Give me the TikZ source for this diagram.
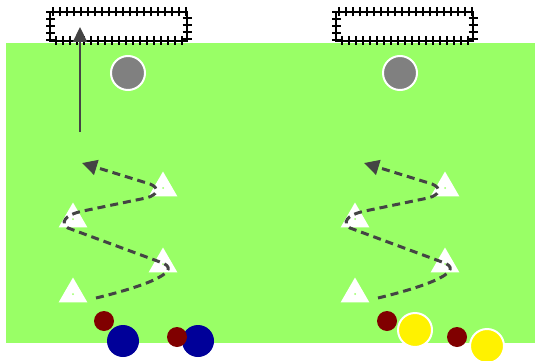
\documentclass[tikz,border=0pt]{standalone}
\usepackage{tikz}
\usetikzlibrary{shapes, arrows.meta, positioning, calc, decorations.pathreplacing}
\definecolor{pitch}{RGB}{153,255,102}
\definecolor{darkred}{RGB}{128,0,0}
\definecolor{navy}{RGB}{0,0,153}
\definecolor{runline}{RGB}{68,68,68}

\begin{document}
\begin{tikzpicture}[x=1pt, y=-1pt,
  cone/.style={regular polygon, regular polygon sides=3, fill=white, inner sep=0pt, minimum size=33pt},
  ball/.style={circle, fill=gray, draw=white, line width=2pt, inner sep=0pt, minimum size=34pt},
  redp/.style={circle, fill=darkred, inner sep=0pt, minimum size=20pt},
  bluep/.style={circle, fill=navy, inner sep=0pt, minimum size=32pt},
  yellowp/.style={circle, fill=yellow, draw=white, line width=2pt, inner sep=0pt, minimum size=34pt},
  net/.style={line width=2pt, decorate, decoration={ticks, segment length=7pt, amplitude=4.5pt}},
  run/.style={draw=runline, line width=3pt, dash pattern=on 8pt off 5pt, -{Triangle[length=15pt, width=15pt]}}
]
  \useasboundingbox (0,0) rectangle (535,361);

  % Pitch
  \fill[pitch] (6,43) rectangle (535,343);

  % Goals
  \foreach \gx in {50, 336} {
    \draw[line width=2.2pt] (\gx,12) rectangle ++(137,29);
    \draw[net] (\gx,12) rectangle ++(137,29);
  }

  % Balls
  \node[ball] (ball1) at (128,73) {};
  \node[ball] (ball2) at (400,73) {};

  % Shot
  \coordinate (shot) at (80,132);
  \coordinate (goal1) at (80,27);
  \draw[draw=runline, line width=2.2pt, -{Triangle[length=15pt, width=14pt]}] (shot) -- (goal1);

  % Cones and slalom runs
  \foreach \s/\sd in {0/l, 282/r} {
    \begin{scope}[xshift=\s]
      \node[cone] (\sd1) at (163,188) {};
      \node[cone] (\sd2) at (73,219) {};
      \node[cone] (\sd3) at (163,264) {};
      \node[cone] (\sd4) at (73,294) {};
      \foreach \c in {1,...,4}
        \fill[pitch] (\sd\c.center) circle (1);
      \coordinate (\sd a) at (96,298);
      \coordinate (\sd b) at (82,163);
      \draw[run] (\sd a) .. controls (150,285) and (185,270) .. (160,262)
        -- (68,228) .. controls (60,223) and (64,215) .. (83,211)
        -- (146,198) .. controls (158,195) and (160,188) .. (150,184) -- (\sd b);
    \end{scope}
  }

  % Players
  \node[redp] (r1) at (104,321) {};
  \node[bluep] (b1) at (123,341) {};
  \node[bluep] (b2) at (198,341) {};
  \node[redp] (r2) at (177,337) {};
  \node[redp] (r3) at (387,321) {};
  \node[yellowp] (y1) at (415,330) {};
  \node[redp] (r4) at (457,337) {};
  \node[yellowp] (y2) at (487,346) {};

\end{tikzpicture}
\end{document}
